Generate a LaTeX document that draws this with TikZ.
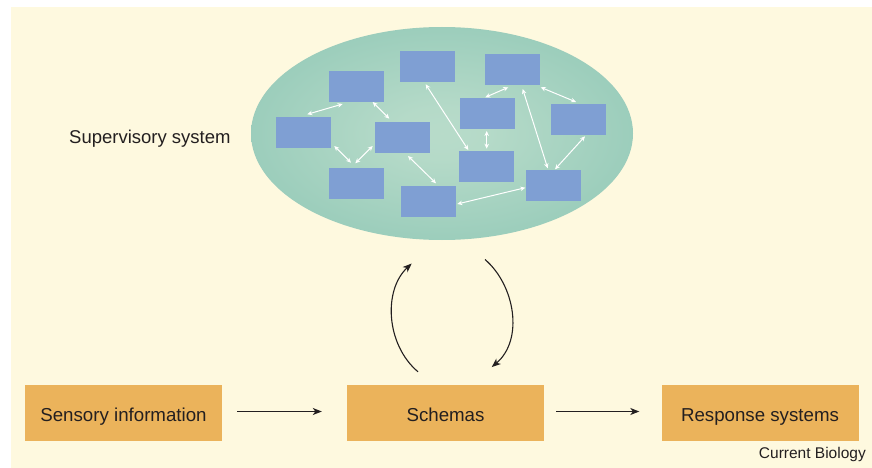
\documentclass[tikz,border=0pt]{standalone}
\usepackage{fontspec}
\setmainfont{Liberation Sans}
\usetikzlibrary{shapes.geometric,arrows.meta,calc}
\definecolor{cream}{HTML}{FEF9DF}
\definecolor{boxorange}{HTML}{EBB35B}
\definecolor{boxblue}{HTML}{7F9FD3}
\definecolor{txt}{HTML}{231F20}
\pgfdeclareradialshading{ellsh}{\pgfpointorigin}{rgb(0bp)=(0.72,0.86,0.79); rgb(6bp)=(0.71,0.855,0.785); rgb(50bp)=(0.48,0.74,0.67); rgb(100bp)=(0.48,0.74,0.67)}
\tikzset{
  small/.style={rectangle, fill=boxblue, minimum width=55pt, minimum height=31pt, inner sep=0pt},
  big/.style={rectangle, fill=boxorange, minimum width=197pt, minimum height=56pt, inner sep=0pt, text=txt, font=\fontsize{18.7}{22}\selectfont, text height=16.6pt, text depth=0pt},
  link/.style={white, line width=1pt, {Stealth[length=5pt,width=4.5pt]}-{Stealth[length=5pt,width=4.5pt]}},
  flow/.style={txt, line width=1.1pt, -{Stealth[length=9pt,width=7pt,inset=2.5pt]}},
}
\begin{document}
\begin{tikzpicture}[x=1pt,y=-1pt]
\useasboundingbox (0,0) rectangle (872,468);
\fill[cream] (11,7) rectangle (872,468);
\node[ellipse, shade, shading=ellsh, minimum width=382pt, minimum height=213pt, inner sep=0pt] (ell) at (442,133.5) {};
% small boxes
\node[small] (b1) at (356.5,86.5) {};
\node[small] (b2) at (427.5,66.5) {};
\node[small] (b3) at (512.5,69.5) {};
\node[small] (b4) at (303.5,132.5) {};
\node[small] (b5) at (402.5,137.5) {};
\node[small] (b6) at (487.5,113.5) {};
\node[small] (b7) at (578.5,119.5) {};
\node[small] (b8) at (486.5,166.5) {};
\node[small] (b9) at (356.5,183.5) {};
\node[small] (b10) at (428.5,201.5) {};
\node[small] (b11) at (553.5,185.5) {};
% links
\draw[link] ($(b4)+(3.8,-18.2)$) -- ($(b1)+(-13.8,17.5)$);
\draw[link] ($(b1)+(16.2,15.5)$) -- ($(b5)+(-13.2,-18.8)$);
\draw[link] ($(b4)+(30.8,13.5)$) -- ($(b9)+(-5.5,-20.8)$);
\draw[link] ($(b5)+(-29.8,8.5)$) -- ($(b9)+(-1.2,-20.2)$);
\draw[link] ($(b5)+(5.5,18.5)$) -- ($(b10)+(7.5,-18.2)$);
\draw[link] ($(b2)+(-1.8,17.8)$) -- ($(b8)+(-18.2,-16.5)$);
\draw[link] ($(b6)+(-2.2,-16.2)$) -- ($(b3)+(-4.2,17.8)$);
\draw[link] ($(b6)+(-0.8,17.5)$) -- ($(b8)+(0.2,-17.8)$);
\draw[link] ($(b3)+(10.2,19.5)$) -- ($(b11)+(-5.8,-17.2)$);
\draw[link] ($(b3)+(28.2,17.8)$) -- ($(b7)+(-2.5,-17.5)$);
\draw[link] ($(b7)+(6.5,16.8)$) -- ($(b11)+(1.5,-16.2)$);
\draw[link] ($(b10)+(28.8,2.5)$) -- ($(b11)+(-28.2,2.2)$);
% label
\node[anchor=base west, text=txt, font=\fontsize{18.5}{22}\selectfont, inner sep=0pt] (sup) at (69,143.3) {Supervisory system};
% bottom row
\node[big] (sens) at (123.5,413) {Sensory information};
\node[big] (sch) at (445.5,413) {Schemas};
\node[big] (resp) at (760,413) {Response systems};
\draw[flow] ($(sens.east)+(15,-1.5)$) -- ($(sch.west)+(-25,-1.5)$);
\draw[flow] ($(sch.east)+(12,-1.5)$) -- ($(resp.west)+(-22,-1.5)$);
% loop arrows
\draw[flow] ($(sch.north)+(-27.5,-13)$) .. controls +(-32,-27) and +(-28.7,26.7) .. ($(ell.south)+(-30.3,23.3)$);
\draw[flow] ($(ell.south)+(43,19.3)$) .. controls +(30,25.7) and +(32.3,-27.3) .. ($(sch.north)+(46.2,-17.7)$);
\node[anchor=base east, text=txt, font=\fontsize{15.5}{18}\selectfont, inner sep=0pt] (cb) at (866,458.3) {Current Biology};
\end{tikzpicture}
\end{document}
